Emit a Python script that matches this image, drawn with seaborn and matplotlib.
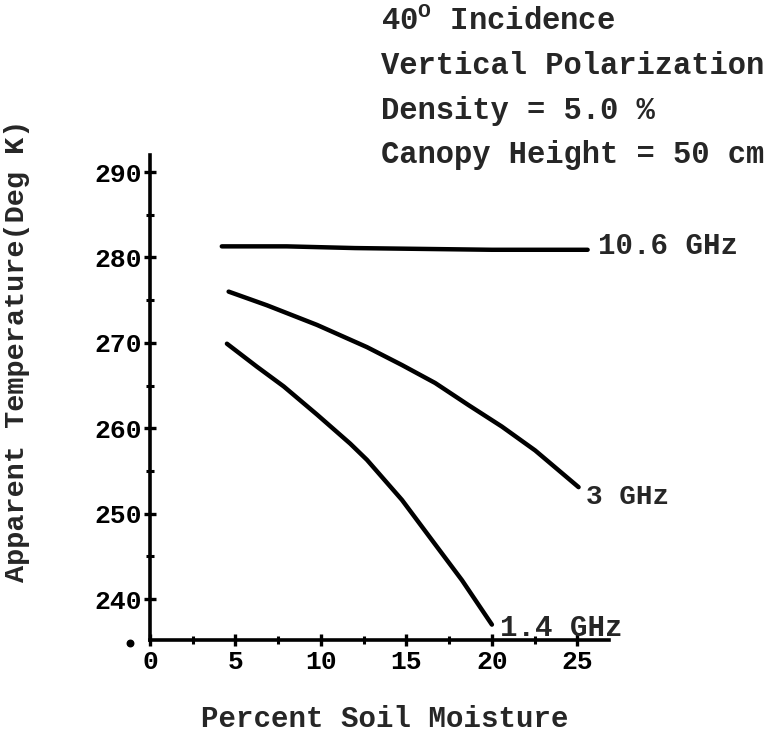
import matplotlib
matplotlib.use("Agg")
import matplotlib.pyplot as plt
import seaborn as sns
import pandas as pd
import numpy as np

# Data
x_106 = [4.2, 8.0, 12.0, 16.0, 20.0, 25.6]
y_106 = [281.3, 281.3, 281.1, 281.0, 280.9, 280.9]

x_3 = [4.6, 6.84, 9.77, 12.69, 14.74, 16.68, 18.64, 20.58, 22.53, 25.07]
y_3 = [276.0, 274.4, 272.1, 269.5, 267.4, 265.3, 262.7, 260.2, 257.4, 253.1]

x_14 = [4.5, 6.26, 7.82, 9.77, 11.71, 12.69, 14.74, 16.68, 18.25, 20.0]
y_14 = [269.9, 267.2, 264.9, 261.6, 258.2, 256.3, 251.6, 246.4, 242.2, 237.0]

series_names = ["10.6 GHz", "3 GHz", "1.4 GHz"]
x_ticks = [0, 5, 10, 15, 20, 25]
y_ticks = [240, 250, 260, 270, 280, 290]
info_lines = ["40$^{\\mathrm{O}}$ Incidence", "Vertical Polarization",
              "Density = 5.0 %", "Canopy Height = 50 cm"]

df = pd.concat([
    pd.DataFrame({"x": x_106, "y": y_106, "f": series_names[0]}),
    pd.DataFrame({"x": x_3, "y": y_3, "f": series_names[1]}),
    pd.DataFrame({"x": x_14, "y": y_14, "f": series_names[2]}),
])

sns.set_style("white")
plt.rcParams["font.family"] = ["Liberation Mono", "DejaVu Sans"]
plt.rcParams["font.weight"] = "bold"
plt.rcParams["mathtext.fontset"] = "custom"
plt.rcParams["mathtext.rm"] = "Liberation Mono:bold"

fig = plt.figure(figsize=(7.71, 7.39), dpi=100)
ax = fig.add_axes([150/771, 1-640/739, 459/771, 485/739])

sns.lineplot(data=df, x="x", y="y", hue="f", palette=["black"]*3,
             estimator=None, sort=False, legend=False, linewidth=3.2, ax=ax,
             solid_capstyle="round", solid_joinstyle="round")

ax.set_xlim(0, 26.85)
ax.set_ylim(235.2, 292.0)
ax.set_xticks(x_ticks)
ax.set_yticks(y_ticks)
ax.set_xticks(np.arange(2.5, 26, 5), minor=True)
ax.set_yticks(np.arange(245, 290, 10), minor=True)
ax.tick_params(axis="both", which="both", left=True, bottom=True)
ax.tick_params(axis="both", which="major", direction="inout", length=9, width=2.4,
               labelsize=19, color="black", labelcolor="black")
ax.tick_params(axis="both", which="minor", direction="inout", length=6, width=2.2,
               color="black")
ax.tick_params(axis="y", pad=1)
ax.tick_params(axis="x", pad=3)
for lbl in ax.get_xticklabels() + ax.get_yticklabels():
    lbl.set_fontweight("bold")

for s in ["top", "right"]:
    ax.spines[s].set_visible(False)
for s in ["left", "bottom"]:
    ax.spines[s].set_linewidth(2.6)
    ax.spines[s].set_color("black")

ax.set_xlabel("Percent Soil Moisture", fontsize=21, fontweight="bold")
ax.set_ylabel("Apparent Temperature(Deg K)", fontsize=20.5, fontweight="bold")
ax.xaxis.set_label_coords(0.512, -0.135)
ax.yaxis.set_label_coords(-0.261, 0.596)

# series labels
ax.text(26.2, 281.4, series_names[0], fontsize=21, fontweight="bold", va="center", ha="left")
ax.text(25.5, 251.9, series_names[1], fontsize=20, fontweight="bold", va="center", ha="left")
ax.text(20.5, 236.6, series_names[2], fontsize=21, fontweight="bold", va="center", ha="left")

# stray dot at the corner of the axes
ax.scatter([-1.17], [234.85], s=22, color="black", clip_on=False, zorder=5)

for i, t in enumerate(info_lines):
    fig.text(381/771, 1 - (22 + 44.5*i)/739, t, fontsize=22, fontweight="bold",
             va="center", ha="left")

fig.savefig("out.png", dpi=100, facecolor="white")
